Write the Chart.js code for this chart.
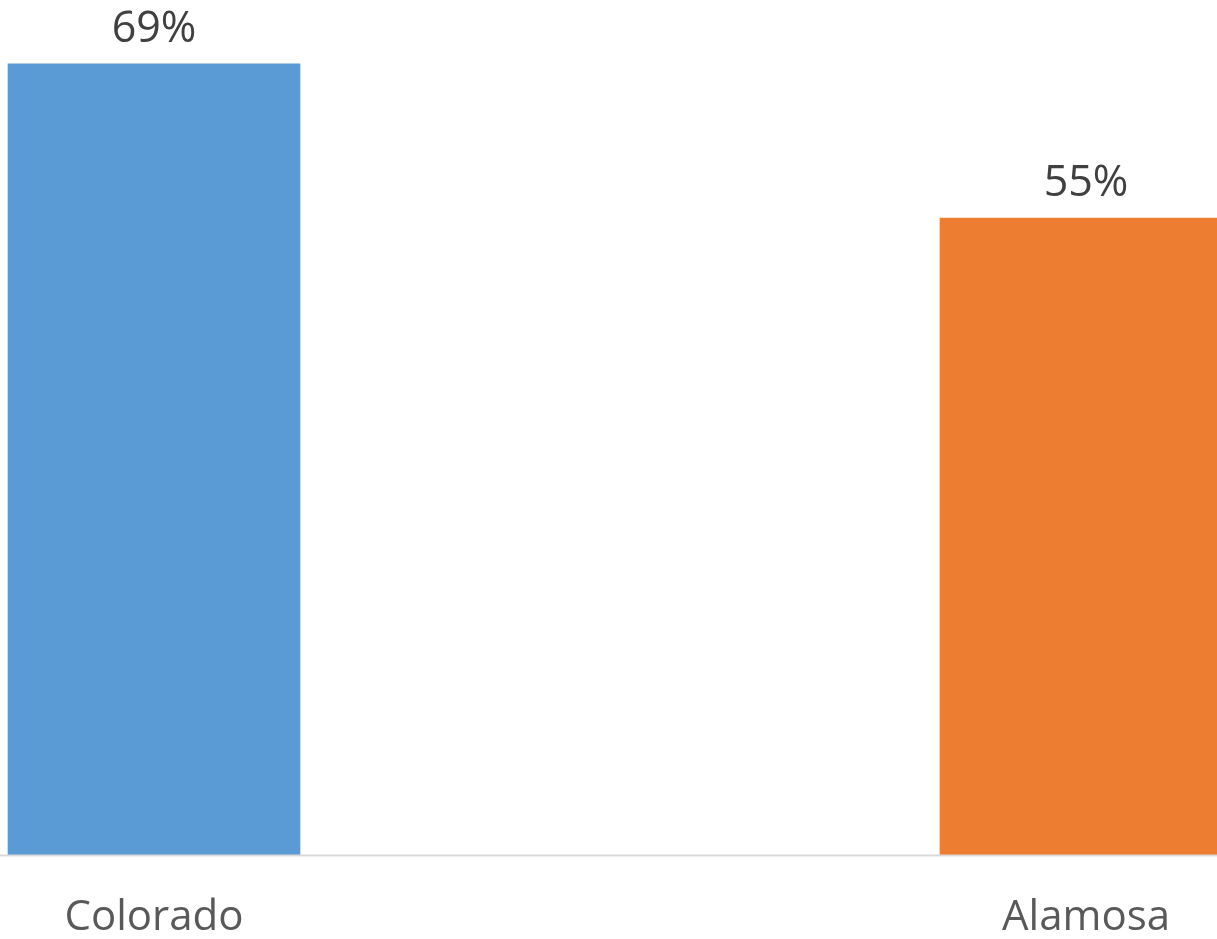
<!DOCTYPE html>
<html>
<head>
<meta charset="utf-8">
<script src="https://cdn.jsdelivr.net/npm/chart.js@4"></script>
<style>
  html, body { margin: 0; padding: 0; background: #fff; }
  #wrap { width: 1217px; height: 939px; }
</style>
</head>
<body>
<div id="wrap"><canvas id="chart" width="1217" height="939"></canvas></div>
<script>
var categories = ['Colorado', 'Alamosa'];
var values = [68.7, 55.3];   // shown rounded as 69% / 55%
var barColors = ['#5B9BD5', '#ED7D31'];

// value labels above the bars + baseline across the full width
var barLabels = {
    id: 'barLabels',
    afterDatasetsDraw: function(chart) {
        var ctx = chart.ctx;
        var meta = chart.getDatasetMeta(0);
        var y0 = chart.scales.y.getPixelForValue(0);
        ctx.save();
        ctx.strokeStyle = '#D9D9D9';
        ctx.lineWidth = 2;
        ctx.beginPath();
        ctx.moveTo(0, y0 + 1);
        ctx.lineTo(chart.width, y0 + 1);
        ctx.stroke();
        ctx.fillStyle = '#404040';
        ctx.font = '43px "Open Sans"';
        ctx.textAlign = 'center';
        ctx.textBaseline = 'alphabetic';
        meta.data.forEach(function(bar, i) {
            ctx.fillText(Math.round(values[i]) + '%', bar.x, bar.y - 22);
        });
        ctx.restore();
    }
};

new Chart(document.getElementById('chart'), {
    type: 'bar',
    data: {
        labels: categories,
        datasets: [{
            data: values,
            backgroundColor: barColors,
            barThickness: 292,
            clip: false
        }]
    },
    options: {
        responsive: false,
        animation: false,
        layout: {
            padding: { left: 154, right: 131, top: 0, bottom: -34 }
        },
        plugins: {
            legend: { display: false },
            tooltip: { enabled: false }
        },
        scales: {
            x: {
                offset: false,
                grid: { display: false },
                border: { display: false },
                ticks: {
                    color: '#595959',
                    font: { family: '"Open Sans"', size: 42 },
                    padding: 30,
                    maxRotation: 0
                }
            },
            y: {
                display: false,
                min: 0,
                max: 74.25
            }
        }
    },
    plugins: [barLabels]
});
</script>
</body>
</html>
